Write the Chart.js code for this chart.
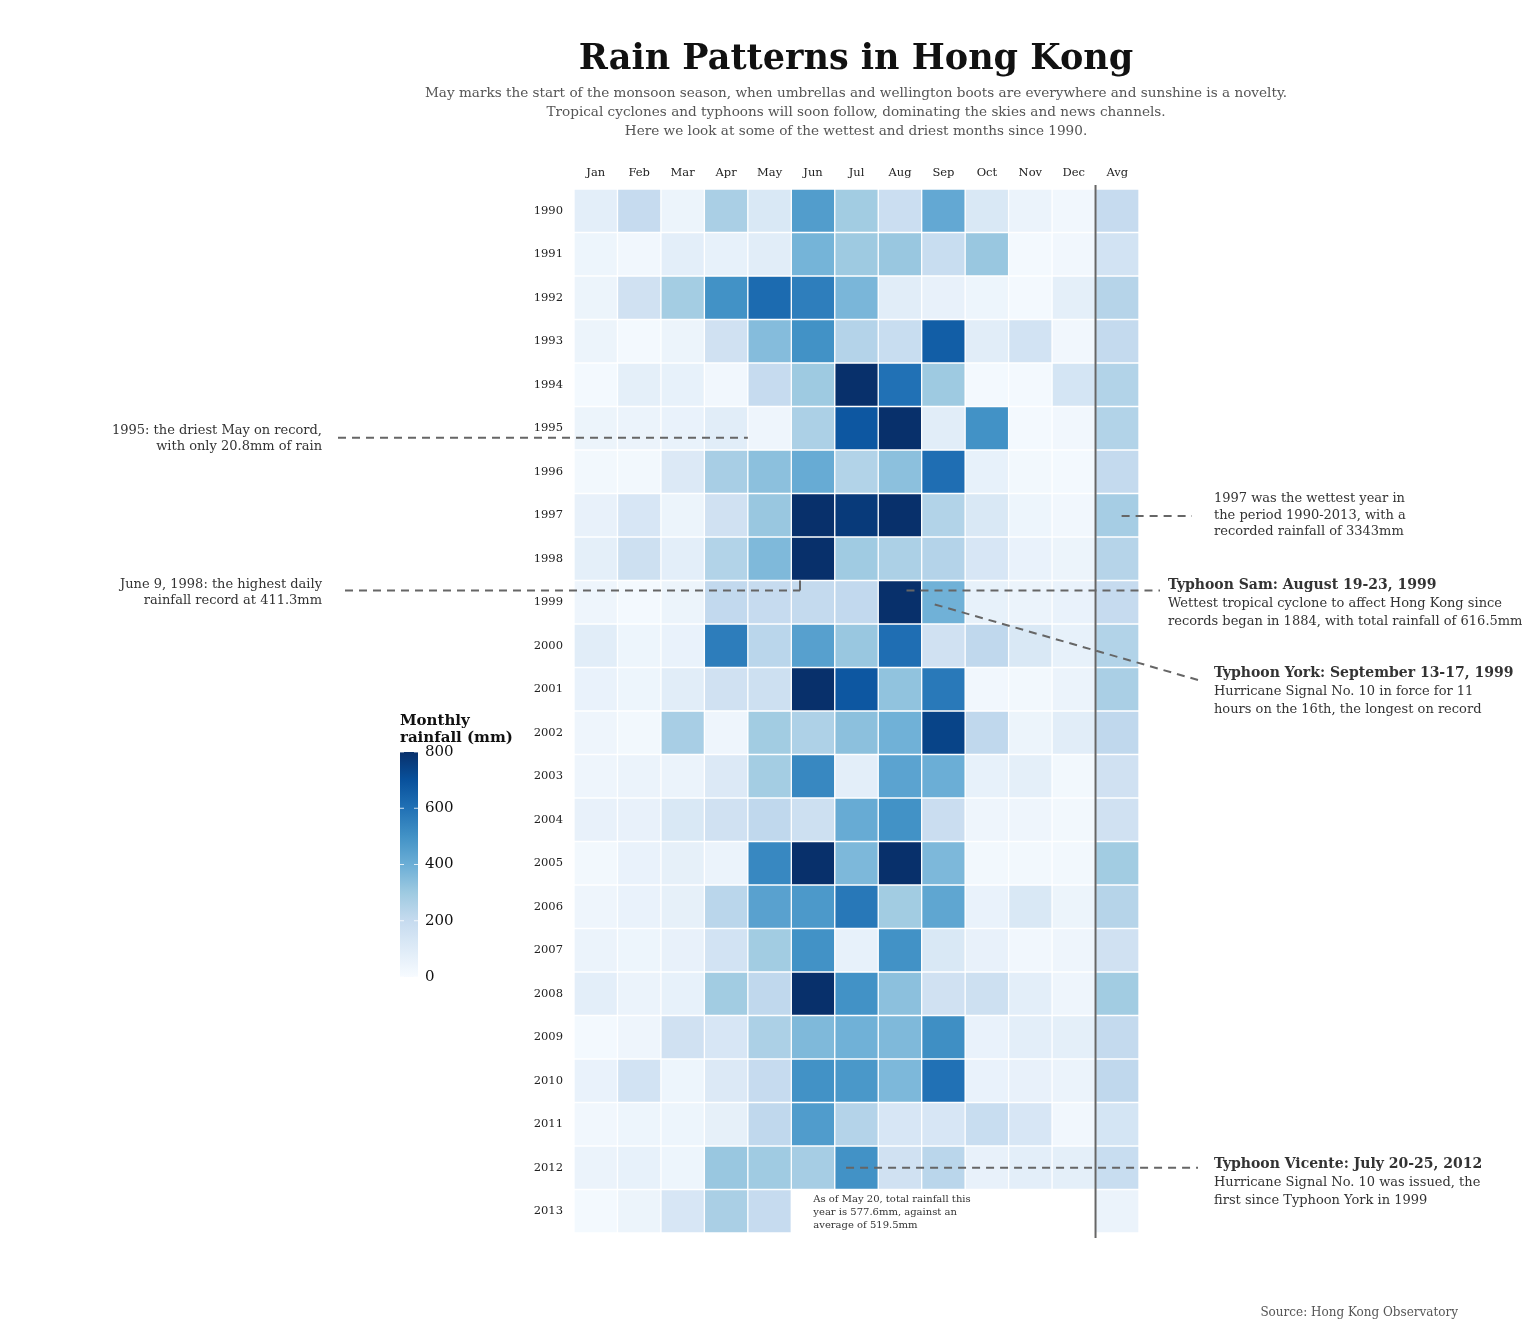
<!DOCTYPE html>
<html>
<head>
<meta charset="utf-8">
<script src="https://cdn.jsdelivr.net/npm/chart.js@4.4.0/dist/chart.umd.min.js"></script>
<style>
  html, body { margin: 0; padding: 0; background: #fff; }
  #wrap { width: 1536px; height: 1344px; position: relative; }
</style>
</head>
<body>
<div id="wrap"><canvas id="rainChart" width="1536" height="1344"></canvas></div>
<script>
const columns = ['Jan', 'Feb', 'Mar', 'Apr', 'May', 'Jun', 'Jul', 'Aug', 'Sep', 'Oct', 'Nov', 'Dec', 'Avg'];
const years = ['1990', '1991', '1992', '1993', '1994', '1995', '1996', '1997', '1998', '1999', '2000', '2001',
               '2002', '2003', '2004', '2005', '2006', '2007', '2008', '2009', '2010', '2011', '2012', '2013'];

// monthly rainfall (mm), Jan..Dec then yearly average
const rain1990 = [80, 200, 45, 270, 120, 460, 290, 180, 420, 120, 50, 25, 200];
const rain1991 = [40, 25, 80, 65, 90, 380, 300, 310, 190, 310, 15, 25, 150];
const rain1992 = [45, 160, 285, 500, 620, 560, 370, 90, 60, 40, 15, 75, 240];
const rain1993 = [45, 15, 45, 160, 350, 500, 245, 190, 660, 90, 150, 25, 205];
const rain1994 = [15, 75, 65, 25, 200, 300, 820, 600, 300, 15, 15, 140, 250];
const rain1995 = [45, 50, 55, 90, 35, 265, 680, 800, 90, 500, 15, 25, 250];
const rain1996 = [20, 20, 110, 275, 335, 410, 250, 335, 610, 65, 20, 15, 205];
const rain1997 = [60, 130, 45, 160, 310, 850, 770, 850, 250, 120, 40, 25, 280];
const rain1998 = [75, 170, 80, 250, 360, 900, 295, 265, 245, 130, 55, 45, 240];
const rain1999 = [35, 15, 45, 210, 200, 205, 210, 820, 390, 65, 50, 55, 200];
const rain2000 = [90, 40, 55, 565, 230, 450, 310, 610, 160, 215, 120, 65, 250];
const rain2001 = [55, 40, 90, 160, 170, 850, 680, 325, 575, 25, 20, 50, 270];
const rain2002 = [35, 20, 275, 35, 290, 260, 335, 390, 740, 215, 45, 90, 215];
const rain2003 = [35, 50, 50, 110, 285, 530, 80, 440, 400, 65, 75, 20, 160];
const rain2004 = [60, 60, 120, 160, 215, 170, 410, 500, 185, 35, 35, 20, 160];
const rain2005 = [20, 55, 70, 50, 530, 850, 365, 820, 365, 20, 20, 20, 290];
const rain2006 = [35, 55, 70, 230, 445, 475, 580, 290, 430, 55, 120, 45, 240];
const rain2007 = [50, 40, 60, 150, 290, 500, 65, 500, 120, 60, 25, 35, 160];
const rain2008 = [80, 50, 65, 290, 215, 850, 500, 335, 160, 170, 80, 35, 290];
const rain2009 = [15, 35, 160, 130, 265, 360, 390, 360, 510, 55, 80, 75, 205];
const rain2010 = [55, 150, 40, 110, 200, 500, 480, 365, 600, 55, 60, 50, 215];
const rain2011 = [25, 40, 40, 70, 215, 465, 245, 130, 130, 190, 130, 25, 140];
const rain2012 = [50, 65, 40, 310, 295, 280, 500, 160, 230, 60, 80, 75, 190];
const rain2013 = [15, 45, 130, 270, 200, null, null, null, null, null, null, null, 50];

const rainRows = [rain1990, rain1991, rain1992, rain1993, rain1994, rain1995, rain1996, rain1997,
                  rain1998, rain1999, rain2000, rain2001, rain2002, rain2003, rain2004, rain2005,
                  rain2006, rain2007, rain2008, rain2009, rain2010, rain2011, rain2012, rain2013];

const legendTicks = [0, 200, 400, 600, 800];

// ColorBrewer Blues, 0..800 mm
const blues = ['#f7fbff', '#deebf7', '#c6dbef', '#9ecae1', '#6baed6', '#4292c6', '#2171b5', '#08519c', '#08306b'];
const maxRain = 800;

function hexToRgb(h) {
    return [parseInt(h.slice(1, 3), 16), parseInt(h.slice(3, 5), 16), parseInt(h.slice(5, 7), 16)];
}

function rainColor(v) {
    const t = Math.max(0, Math.min(1, v / maxRain)) * (blues.length - 1);
    const i = Math.min(Math.floor(t), blues.length - 2);
    const f = t - i;
    const a = hexToRgb(blues[i]);
    const b = hexToRgb(blues[i + 1]);
    const c = a.map((x, k) => Math.round(x + (b[k] - x) * f));
    return 'rgb(' + c.join(',') + ')';
}

const SERIF = '"DejaVu Serif", "Liberation Serif", serif';

const datasets = rainRows.map((row, yi) => ({
    label: years[yi],
    data: row.map(v => (v === null ? null : [yi - 0.5, yi + 0.5])),
    backgroundColor: row.map(v => (v === null ? 'rgba(0,0,0,0)' : rainColor(v))),
    borderColor: '#ffffff',
    borderWidth: 1,
    borderSkipped: false,
    grouped: false,
    barPercentage: 1,
    categoryPercentage: 1
}));

function drawLines(ctx, lines, x, y, lh, align) {
    ctx.textAlign = align;
    lines.forEach((t, i) => ctx.fillText(t, x, y + i * lh));
}

function dashed(ctx, pts) {
    ctx.save();
    ctx.strokeStyle = '#666';
    ctx.lineWidth = 2;
    ctx.setLineDash([8, 6]);
    ctx.beginPath();
    ctx.moveTo(pts[0][0], pts[0][1]);
    for (let i = 1; i < pts.length; i++) ctx.lineTo(pts[i][0], pts[i][1]);
    ctx.stroke();
    ctx.restore();
}

const notesPlugin = {
    id: 'notes',
    afterDatasetsDraw(chart) {
        const ctx = chart.ctx;
        const x = chart.scales.x;
        const y = chart.scales.y;
        const area = chart.chartArea;

        // separator before the average column
        const sepX = x.getPixelForValue(11.5);
        ctx.save();
        ctx.strokeStyle = '#666';
        ctx.lineWidth = 2;
        ctx.beginPath();
        ctx.moveTo(sepX, area.top - 4);
        ctx.lineTo(sepX, area.bottom + 5);
        ctx.stroke();
        ctx.restore();

        // title block
        ctx.save();
        ctx.fillStyle = '#111';
        ctx.textBaseline = 'alphabetic';
        ctx.font = 'bold 35px ' + SERIF;
        ctx.textAlign = 'center';
        ctx.fillText('Rain Patterns in Hong Kong', 856, 69);
        ctx.fillStyle = '#555';
        ctx.font = '13.6px ' + SERIF;
        drawLines(ctx, [
            'May marks the start of the monsoon season, when umbrellas and wellington boots are everywhere and sunshine is a novelty.',
            'Tropical cyclones and typhoons will soon follow, dominating the skies and news channels.',
            'Here we look at some of the wettest and driest months since 1990.'
        ], 856, 97, 19, 'center');

        // annotation lines
        const yMid = i => y.getPixelForValue(i);
        dashed(ctx, [[338, yMid(5.22)], [x.getPixelForValue(3.5), yMid(5.22)]]);
        dashed(ctx, [[345, yMid(8.73)], [x.getPixelForValue(4.7), yMid(8.73)]]);
        ctx.save();
        ctx.strokeStyle = '#666';
        ctx.lineWidth = 2;
        ctx.beginPath();
        ctx.moveTo(x.getPixelForValue(4.7), y.getPixelForValue(8.5));
        ctx.lineTo(x.getPixelForValue(4.7), yMid(8.73));
        ctx.stroke();
        ctx.restore();
        dashed(ctx, [[x.getPixelForValue(7.15), yMid(8.73)], [1160, yMid(8.73)]]);
        dashed(ctx, [[x.getPixelForValue(7.8), yMid(9.05)], [1198, 680]]);
        dashed(ctx, [[x.getPixelForValue(12.1), yMid(7.02)], [1192, yMid(7.02)]]);
        dashed(ctx, [[x.getPixelForValue(5.76), yMid(22)], [1198, yMid(22)]]);

        // annotation texts
        ctx.fillStyle = '#333';
        ctx.font = '13px ' + SERIF;
        drawLines(ctx, ['1995: the driest May on record,', 'with only 20.8mm of rain'], 322, 434, 16, 'right');
        drawLines(ctx, ['June 9, 1998: the highest daily', 'rainfall record at 411.3mm'], 322, 588, 16, 'right');
        drawLines(ctx, ['1997 was the wettest year in', 'the period 1990-2013, with a', 'recorded rainfall of 3343mm'], 1214, 502, 16.5, 'left');

        ctx.font = 'bold 14px ' + SERIF;
        drawLines(ctx, ['Typhoon Sam: August 19-23, 1999'], 1168, 589, 18, 'left');
        drawLines(ctx, ['Typhoon York: September 13-17, 1999'], 1214, 677, 18, 'left');
        drawLines(ctx, ['Typhoon Vicente: July 20-25, 2012'], 1214, 1168, 18, 'left');
        ctx.font = '13px ' + SERIF;
        drawLines(ctx, ['Wettest tropical cyclone to affect Hong Kong since', 'records began in 1884, with total rainfall of 616.5mm'], 1168, 607, 18, 'left');
        drawLines(ctx, ['Hurricane Signal No. 10 in force for 11', 'hours on the 16th, the longest on record'], 1214, 695, 18, 'left');
        drawLines(ctx, ['Hurricane Signal No. 10 was issued, the', 'first since Typhoon York in 1999'], 1214, 1186, 18, 'left');

        ctx.font = '10px ' + SERIF;
        drawLines(ctx, ['As of May 20, total rainfall this', 'year is 577.6mm, against an', 'average of 519.5mm'],
            x.getPixelForValue(5) - 0.5 * (x.getPixelForValue(1) - x.getPixelForValue(0)) + 22, 1202, 13, 'left');

        // source
        ctx.fillStyle = '#555';
        ctx.font = '12px ' + SERIF;
        drawLines(ctx, ['Source: Hong Kong Observatory'], 1458, 1316, 14, 'right');

        // colour legend
        const lgX = 400, lgTop = 752, lgBottom = 977, lgW = 18;
        ctx.fillStyle = '#111';
        ctx.font = 'bold 15px ' + SERIF;
        drawLines(ctx, ['Monthly', 'rainfall (mm)'], lgX, 725, 17, 'left');
        const grad = ctx.createLinearGradient(0, lgBottom, 0, lgTop);
        blues.forEach((c, i) => grad.addColorStop(i / (blues.length - 1), c));
        ctx.fillStyle = grad;
        ctx.fillRect(lgX, lgTop, lgW, lgBottom - lgTop);
        ctx.font = '15px ' + SERIF;
        ctx.textBaseline = 'middle';
        legendTicks.forEach(v => {
            const py = lgBottom - (v / maxRain) * (lgBottom - lgTop);
            ctx.fillStyle = '#111';
            ctx.textAlign = 'left';
            ctx.fillText(String(v), lgX + 25, py);
            ctx.strokeStyle = 'rgba(255,255,255,0.8)';
            ctx.lineWidth = 1;
            ctx.beginPath();
            ctx.moveTo(lgX, py); ctx.lineTo(lgX + 4, py);
            ctx.moveTo(lgX + lgW - 4, py); ctx.lineTo(lgX + lgW, py);
            ctx.stroke();
        });
        ctx.restore();
    }
};

const ctx = document.getElementById('rainChart').getContext('2d');
const rainChart = new Chart(ctx, {
    type: 'bar',
    data: { labels: columns, datasets: datasets },
    options: {
        responsive: false,
        animation: false,
        layout: { padding: { left: 514, right: 397, top: 159, bottom: 111 } },
        plugins: {
            legend: { display: false },
            tooltip: { enabled: false },
            title: { display: false }
        },
        scales: {
            x: {
                position: 'top',
                offset: true,
                grid: { display: false, drawTicks: false },
                border: { display: false },
                ticks: { color: '#222', font: { family: SERIF, size: 11.5 }, padding: 9, maxRotation: 0 },
                afterFit(scale) { scale.height = 30; }
            },
            y: {
                reverse: true,
                min: -0.5,
                max: 23.5,
                grid: { display: false, drawTicks: false },
                border: { display: false },
                afterBuildTicks(scale) { scale.ticks = years.map((yr, i) => ({ value: i })); },
                ticks: {
                    color: '#222',
                    font: { family: SERIF, size: 11.5 },
                    padding: 11,
                    callback: (v) => years[v]
                },
                afterFit(scale) { scale.width = 60; }
            }
        }
    },
    plugins: [notesPlugin]
});
</script>
</body>
</html>
